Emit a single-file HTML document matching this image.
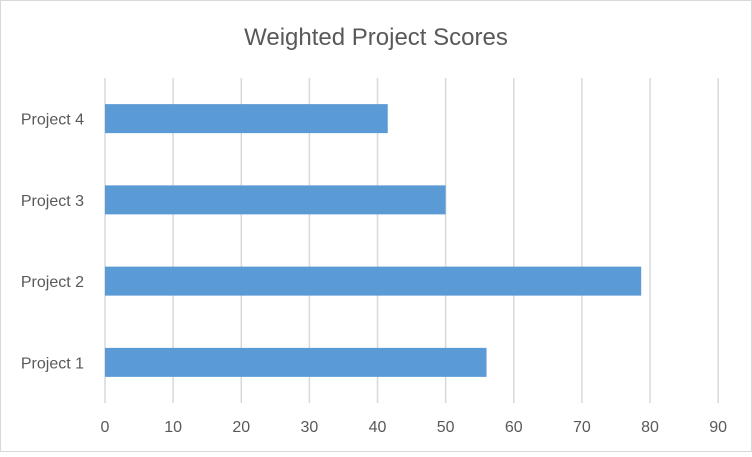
<!DOCTYPE html>
<html><head><meta charset="utf-8"><style>
body{margin:0;background:#fff;}
svg text{font-family:"Liberation Sans",sans-serif;fill:#595959;}
</style></head><body>
<svg width="752" height="452">
<rect x="0.5" y="0.5" width="751" height="451" fill="#fff" stroke="#d9d9d9"/>
<text x="376" y="45" font-size="24" text-anchor="middle">Weighted Project Scores</text>
<g id="grid"></g><g id="bars"></g><g id="xticks"></g><g id="ylabels"></g>
</svg>
<script>
const categories=["Project 1","Project 2","Project 3","Project 4"];
const scores=[56,78.7,50,41.5];
const ticks=[0,10,20,30,40,50,60,70,80,90];
const NS="http://www.w3.org/2000/svg";
const x0=105,pxPer=6.813,plotTop=78,plotBottom=403;
const xs=v=>x0+v*pxPer;
const band=(plotBottom-plotTop)/categories.length;
const yc=i=>plotBottom-band*(i+0.5);
function mk(t,a,p){const e=document.createElementNS(NS,t);for(const k in a)e.setAttribute(k,a[k]);p.appendChild(e);return e;}
const g=document.getElementById('grid'),b=document.getElementById('bars'),xt=document.getElementById('xticks'),yl=document.getElementById('ylabels');
ticks.forEach(t=>{
 const l=mk('line',{x1:xs(t),x2:xs(t),y1:plotTop,y2:plotBottom,stroke:'#d9d9d9','stroke-width':1.5},g);
 
 
 const tx=mk('text',{x:xs(t),y:432,'font-size':16,'text-anchor':'middle'},xt);tx.textContent=t;
 
 
});
categories.forEach((c,i)=>{
 const r=mk('rect',{x:x0,y:yc(i)-14.5,width:xs(scores[i])-x0,height:29,fill:'#5b9bd5'},b);
 
 
 const t=mk('text',{x:84,y:yc(i)+6,'font-size':16,'text-anchor':'end'},yl);t.textContent=c;
 
 
});
</script>
</body></html>
